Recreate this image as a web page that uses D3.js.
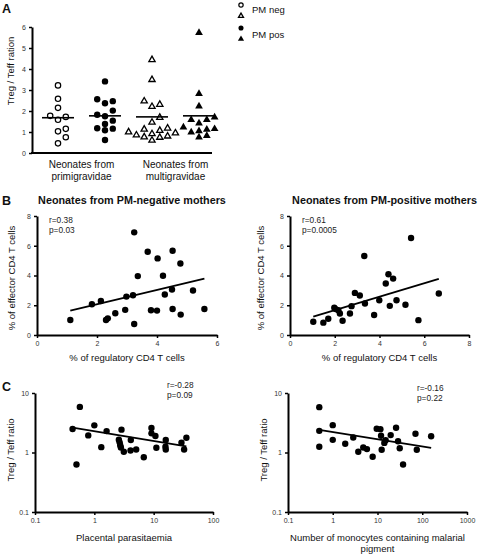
<!DOCTYPE html>
<html><head><meta charset="utf-8">
<script src="https://cdn.jsdelivr.net/npm/d3@7"></script>
<style>
body{margin:0;background:#fff;}
svg text{font-family:"Liberation Sans",Arial,sans-serif;}
</style></head><body>
<svg id="c" width="480" height="554"></svg>
<script>
// ---------- DATA ----------
// Panel A
const groupsA = ["negPrimi", "posPrimi", "negMulti", "posMulti"];
const categoryLabelsA = [["Neonates from", "primigravidae"], ["Neonates from", "multigravidae"]];
const ticksA = [0, 1, 2, 3, 4, 5, 6];
const aNegPrimi = [3.22, 2.58, 2.15, 1.77, 1.72, 1.58, 1.15, 1.03, 0.75, 0.46];
const aPosPrimi = [3.41, 2.56, 2.47, 2.37, 2.02, 1.82, 1.75, 1.54, 1.38, 1.18, 1.16, 1.08, 0.62];
const aNegMulti = [4.44, 3.49, 2.47, 2.31, 2.21, 1.69, 1.46, 1.18, 1.13, 1.07, 1.0, 0.95, 0.91, 0.85, 0.8, 0.76, 0.74, 0.6];
const aPosMulti = [5.73, 2.82, 2.23, 1.7, 1.58, 1.58, 1.42, 1.23, 1.15, 1.12, 1.05, 0.99, 0.82, 0.75];
const aMeans = [1.68, 1.77, 1.72, 1.77];
const legendLabels = ["PM neg", "PM pos"];

// Panel B
const titlesB = ["Neonates from PM-negative mothers", "Neonates from PM-positive mothers"];
const bNegX = [1.11, 1.83, 2.13, 2.3, 2.36, 2.61, 2.94, 2.98, 3.2, 3.24, 3.24, 3.36, 3.69, 3.8, 4.0, 4.02, 4.2, 4.26, 4.52, 4.5, 4.52, 4.78, 4.79, 5.2, 5.58];
const bNegY = [1.01, 2.07, 2.29, 1.01, 1.12, 1.46, 1.69, 2.58, 2.67, 6.9, 0.74, 3.96, 5.6, 1.66, 1.64, 5.15, 3.98, 2.72, 5.66, 3.06, 1.75, 4.81, 1.37, 2.99, 1.75];
const bPosX = [1.04, 1.49, 1.71, 1.98, 2.04, 2.16, 2.23, 2.35, 2.68, 2.75, 2.9, 3.12, 3.32, 3.35, 3.76, 3.99, 4.28, 4.4, 4.46, 4.61, 4.76, 5.16, 5.41, 5.74, 6.65];
const bPosY = [0.89, 0.83, 1.09, 1.83, 1.74, 1.67, 1.45, 0.96, 1.45, 1.94, 2.83, 2.66, 5.31, 2.12, 1.34, 2.34, 3.46, 4.08, 1.96, 3.79, 2.34, 2.03, 6.52, 1.0, 2.79];
const fitBNeg = [1.11, 0.48];   // intercept, slope
const fitBPos = [0.76, 0.452];
const statsBNeg = ["r=0.38", "p=0.03"];
const statsBPos = ["r=0.61", "p=0.0005"];
const ticksBNegX = [0, 2, 4, 6];
const ticksBPosX = [0, 2, 4, 6, 8];
const ticksBY = [0, 2, 4, 6, 8];
const xTitleB = "% of regulatory CD4 T cells";
const yTitleB = "% of effector CD4 T cells";

// Panel C
const cParX = [0.43, 0.57, 0.5, 0.79, 1.0, 1.31, 1.61, 2.87, 2.59, 2.67, 2.73, 2.8, 3.14, 4.07, 4.12, 5.07, 6.82, 9.18, 9.18, 10.7, 11.1, 16, 15.8, 16, 29.4, 35.6, 32.6];
const cParY = [2.48, 5.84, 0.63, 1.94, 2.86, 1.23, 2.29, 2.42, 1.64, 1.48, 1.33, 1.21, 1.03, 1.08, 1.62, 1.12, 0.83, 2.58, 2.1, 1.89, 1.2, 1.62, 1.25, 1.12, 1.46, 1.77, 1.12];
const cMonoX = [0.5, 0.5, 0.5, 1.0, 1.0, 1.9, 2.87, 3.72, 4.81, 5.81, 7.8, 9.6, 11.6, 12, 12.4, 15.2, 14.2, 19.7, 26, 28.8, 31.4, 37.3, 70.6, 75.5, 158];
const cMonoY = [5.78, 2.31, 1.25, 2.88, 1.63, 1.4, 1.79, 1.03, 1.21, 1.14, 0.85, 2.5, 2.47, 1.91, 1.11, 1.61, 1.45, 1.96, 2.6, 1.55, 1.18, 0.63, 2.06, 1.11, 1.88];
const fitCPar = [0.357, -0.163];  // log10 intercept, log10 slope
const fitCMono = [0.343, -0.120];
const statsCPar = ["r=-0.28", "p=0.09"];
const statsCMono = ["r=-0.16", "p=0.22"];
const ticksCParX = [0.1, 1, 10, 100];
const ticksCMonoX = [0.1, 1, 10, 100, 1000];
const ticksCY = [0.1, 1, 10];
const xTitleCPar = ["Placental parasitaemia"];
const xTitleCMono = ["Number of monocytes containing malarial", "pigment"];
const yTitleC = "Treg / Teff ratio";
const yTitleA = "Treg / Teff ration";
const panelLetters = ["A", "B", "C"];

// ---------- DRAWING ----------
const svg = d3.select("#c");
const FONT = '"Liberation Sans",Arial,sans-serif';
const INK = "#111";

function styleAxis(g) {
  g.attr("font-family", FONT).attr("font-size", null);
  g.select(".domain").attr("stroke", "#000").attr("stroke-width", 2);
  g.selectAll(".tick line").attr("stroke", "#000").attr("stroke-width", 1.5);
  g.selectAll(".tick text").attr("fill", "#333").style("font-size", "7px");
}
function text(x, y, s, opts = {}) {
  return svg.append("text").attr("x", x).attr("y", y).text(s)
    .attr("fill", opts.fill || INK)
    .style("font-size", (opts.size || 9.5) + "px")
    .style("font-weight", opts.bold ? "bold" : "normal")
    .attr("text-anchor", opts.anchor || "start");
}
function yTitle(x, y, s) {
  svg.append("text").attr("transform", `translate(${x},${y}) rotate(-90)`)
    .attr("text-anchor", "middle").attr("fill", INK).style("font-size", "9.5px").text(s);
}

// Panel letters
text(2, 13, panelLetters[0], {bold: true, size: 12.5});
text(2, 205, panelLetters[1], {bold: true, size: 12.5});
text(2, 391, panelLetters[2], {bold: true, size: 12.5});

// ----- Panel A -----
const yA = d3.scaleLinear().domain([0, 6]).range([153, 27]);
const xA = d3.scalePoint().domain(groupsA).range([58, 199]);
const gAy = svg.append("g").attr("transform", "translate(32,0)")
  .call(d3.axisLeft(yA).tickValues(ticksA).tickSize(3).tickSizeOuter(0).tickFormat(d3.format("d")));
styleAxis(gAy);
svg.append("line").attr("x1", 31).attr("x2", 212).attr("y1", 153).attr("y2", 153)
  .attr("stroke", "#000").attr("stroke-width", 2);
yTitle(14, 71, yTitleA);

function swarm(values, yScale, step, minDist) {
  const order = values.map((v, i) => i).sort((a, b) => values[a] - values[b]);
  const placed = [], offs = new Array(values.length).fill(0);
  const cands = [0, 1, -1, 2, -2, 1.5, -1.5, 3, -3];
  order.forEach(i => {
    const y = yScale(values[i]);
    for (const c of cands) {
      const x = c * step;
      if (placed.every(p => Math.hypot(p.x - x, p.y - y) >= minDist)) {
        offs[i] = x; placed.push({x, y}); return;
      }
    }
    placed.push({x: 0, y});
  });
  return offs;
}
const seriesA = [aNegPrimi, aPosPrimi, aNegMulti, aPosMulti];
const symA = [
  {shape: "circle", filled: false},
  {shape: "circle", filled: true},
  {shape: "triangle", filled: false},
  {shape: "triangle", filled: true}
];
function drawMarker(g, x, y, spec, k = 1) {
  if (spec.shape === "circle") {
    g.append("circle").attr("cx", x).attr("cy", y)
      .attr("r", (spec.filled ? 3.2 : 2.7) * k)
      .attr("fill", spec.filled ? "#000" : "#fff")
      .attr("stroke", "#000").attr("stroke-width", spec.filled ? 0 : 1.2);
  } else {
    g.append("path").attr("transform", `translate(${x},${y})`)
      .attr("d", d3.symbol().type(d3.symbolTriangle).size((spec.filled ? 26 : 17) * k * k)())
      .attr("fill", spec.filled ? "#000" : "#fff")
      .attr("stroke", "#000").attr("stroke-width", spec.filled ? 0 : 1.3);
  }
}
const gA = svg.append("g");
seriesA.forEach((vals, gi) => {
  const cx = xA(groupsA[gi]);
  const offs = swarm(vals, yA, 7.8, 6.2);
  vals.forEach((v, i) => drawMarker(gA, cx + offs[i], yA(v), symA[gi]));
  gA.append("line").attr("x1", cx - 16).attr("x2", cx + 16)
    .attr("y1", yA(aMeans[gi])).attr("y2", yA(aMeans[gi]))
    .attr("stroke", "#000").attr("stroke-width", 1.6);
});
categoryLabelsA.forEach((lines, k) => {
  const cx = (xA(groupsA[2 * k]) + xA(groupsA[2 * k + 1])) / 2;
  lines.forEach((s, j) => text(cx, 168 + j * 12, s, {anchor: "middle", size: 10}));
});
// legend
const legSpecs = [symA[0], symA[2], symA[1], symA[3]];
legSpecs.forEach((s, i) => drawMarker(svg, 241, [5, 16, 28, 39][i], s, 0.8));
text(252, 13, legendLabels[0], {size: 9.5});
text(252, 38, legendLabels[1], {size: 9.5});

// ----- Panel B -----
function scatterLinear(cfg) {
  const x = d3.scaleLinear().domain(cfg.xDomain).range(cfg.xRange);
  const y = d3.scaleLinear().domain([0, 8]).range([335, 216]);
  const gx = svg.append("g").attr("transform", `translate(0,${y(0)})`)
    .call(d3.axisBottom(x).tickValues(cfg.xTicks).tickFormat(d3.format("d")).tickSize(3).tickSizeOuter(0));
  styleAxis(gx);
  const gy = svg.append("g").attr("transform", `translate(${x(0)},0)`)
    .call(d3.axisLeft(y).tickValues(ticksBY).tickFormat(d3.format("d")).tickSize(3).tickSizeOuter(0));
  styleAxis(gy);
  const g = svg.append("g");
  g.selectAll("circle").data(cfg.xs).join("circle")
    .attr("cx", (d, i) => x(d)).attr("cy", (d, i) => y(cfg.ys[i])).attr("r", 3.2).attr("fill", "#000");
  const ext = d3.extent(cfg.xs);
  g.append("line").attr("x1", x(ext[0])).attr("x2", x(ext[1]))
    .attr("y1", y(cfg.fit[0] + cfg.fit[1] * ext[0])).attr("y2", y(cfg.fit[0] + cfg.fit[1] * ext[1]))
    .attr("stroke", "#000").attr("stroke-width", 1.8);
  text((cfg.xRange[0] + cfg.xRange[1]) / 2 + cfg.titleShift, 204, cfg.title, {anchor: "middle", bold: true, size: 10.8});
  text(cfg.xRange[0] + 12, 223, cfg.stats[0], {size: 8.3, fill: "#222"});
  text(cfg.xRange[0] + 12, 233, cfg.stats[1], {size: 8.3, fill: "#222"});
  text((cfg.xRange[0] + cfg.xRange[1]) / 2, 361, xTitleB, {anchor: "middle", size: 9.5});
  yTitle(cfg.yTitleX, 278, yTitleB);
}
scatterLinear({xDomain: [0, 6], xRange: [37, 217], xTicks: ticksBNegX, xs: bNegX, ys: bNegY,
  fit: fitBNeg, title: titlesB[0], titleShift: 5, stats: statsBNeg, yTitleX: 15});
scatterLinear({xDomain: [0, 8], xRange: [290, 469], xTicks: ticksBPosX, xs: bPosX, ys: bPosY,
  fit: fitBPos, title: titlesB[1], titleShift: 5, stats: statsBPos, yTitleX: 264});

// ----- Panel C -----
function scatterLog(cfg) {
  const x = d3.scaleLog().domain(cfg.xDomain).range(cfg.xRange);
  const y = d3.scaleLog().domain([0.1, 10]).range([512, 393]);
  const fmt = d => String(d);
  const gx = svg.append("g").attr("transform", `translate(0,${y(0.1)})`)
    .call(d3.axisBottom(x).tickValues(cfg.xTicks).tickFormat(fmt).tickSize(3).tickSizeOuter(0));
  styleAxis(gx);
  const gy = svg.append("g").attr("transform", `translate(${x(0.1)},0)`)
    .call(d3.axisLeft(y).tickValues(ticksCY).tickFormat(fmt).tickSize(3).tickSizeOuter(0));
  styleAxis(gy);
  const g = svg.append("g");
  g.selectAll("circle").data(cfg.xs).join("circle")
    .attr("cx", d => x(d)).attr("cy", (d, i) => y(cfg.ys[i])).attr("r", 3.2).attr("fill", "#000");
  const ext = d3.extent(cfg.xs);
  const f = v => Math.pow(10, cfg.fit[0] + cfg.fit[1] * Math.log10(v));
  g.append("line").attr("x1", x(ext[0])).attr("x2", x(ext[1]))
    .attr("y1", y(f(ext[0]))).attr("y2", y(f(ext[1])))
    .attr("stroke", "#000").attr("stroke-width", 1.8);
  text(cfg.statsX, cfg.statsY, cfg.stats[0], {size: 8.3, fill: "#222"});
  text(cfg.statsX, cfg.statsY + 10, cfg.stats[1], {size: 8.3, fill: "#222"});
  cfg.xTitle.forEach((s, j) => text((cfg.xRange[0] + cfg.xRange[1]) / 2, 541 + j * 11, s, {anchor: "middle", size: 9.5}));
  yTitle(cfg.yTitleX, 450, yTitleC);
}
scatterLog({xDomain: [0.1, 100], xRange: [35, 213], xTicks: ticksCParX, xs: cParX, ys: cParY,
  fit: fitCPar, stats: statsCPar, statsX: 167, statsY: 388, xTitle: xTitleCPar, yTitleX: 14});
scatterLog({xDomain: [0.1, 1000], xRange: [288, 467], xTicks: ticksCMonoX, xs: cMonoX, ys: cMonoY,
  fit: fitCMono, stats: statsCMono, statsX: 417, statsY: 391, xTitle: xTitleCMono, yTitleX: 267});
</script>
</body></html>
